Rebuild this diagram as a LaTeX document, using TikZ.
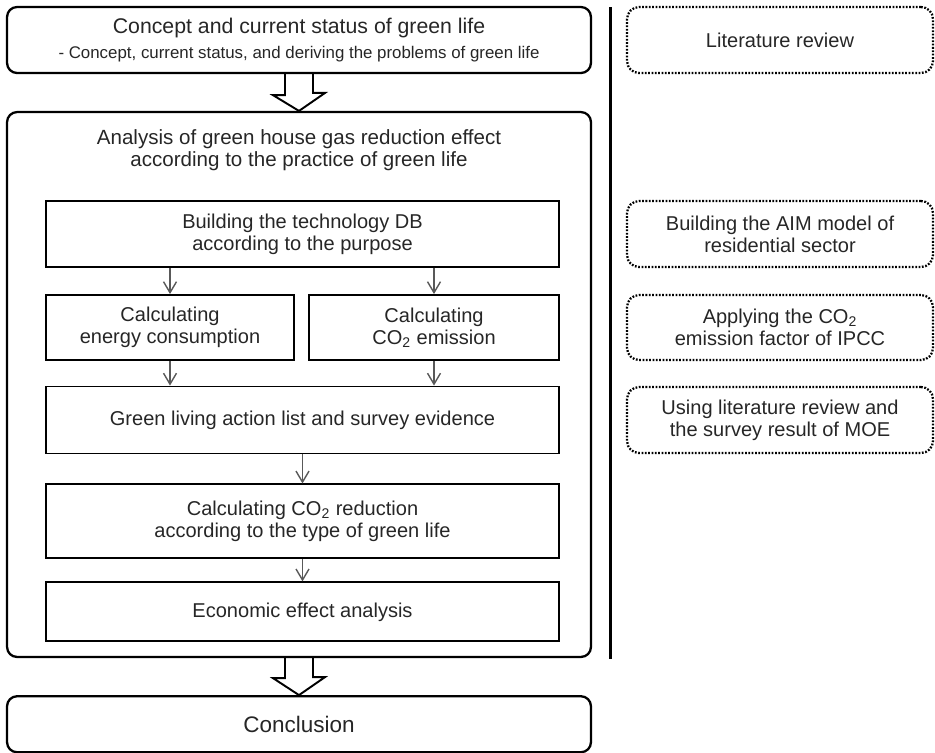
\documentclass[tikz,border=0pt]{standalone}
\usepackage{fontspec}
\setmainfont{Liberation Sans}
\usetikzlibrary{arrows.meta, positioning, calc}

\begin{document}
\begin{tikzpicture}[
    x=0.02cm, y=-0.02cm,
    frame/.style={rectangle, draw, rounded corners=0.2cm, line width=1.3pt, align=center, text=black!85, font=\fontsize{11.6}{13.2}\selectfont},
    box/.style={rectangle, draw, line width=1.1pt, minimum width=10.26cm, align=center, text=black!85, font=\fontsize{11.4}{12.6}\selectfont},
    note/.style={rectangle, draw, rounded corners=0.24cm, line width=1.3pt, dash pattern=on 1pt off 0.9pt, minimum width=6.12cm, minimum height=1.32cm, align=center, text=black!85, font=\fontsize{11.4}{12.6}\selectfont},
    arrow/.style={-{Straight Barb[length=2.2mm, width=2.6mm]}, gray!70!black, line width=0.8pt},
    bigarrow/.style={draw, line width=1.1pt, line join=miter}
]
    \useasboundingbox (0,0) rectangle (935,752);

    % left column
    \node[frame, minimum width=11.68cm, minimum height=1.32cm] (status) at (299,40)
        {{\fontsize{12.1}{14}\selectfont Concept and current status of green life}\\[1pt]
         {\fontsize{9.6}{11}\selectfont - Concept, current status, and deriving the problems of green life}};
    \node[frame, minimum width=11.68cm, minimum height=10.9cm] (analysis) at (299,384.5) {};
    \node[align=center, text=black!85, font=\fontsize{11.7}{12.8}\selectfont] (analysistitle) at (299,150)
        {Analysis of green house gas reduction effect\\according to the practice of green life};

    \node[box, minimum height=1.32cm] (db) at (302.5,234) {Building the technology DB\\according to the purpose};
    \node[box, minimum width=4.96cm, minimum height=1.3cm] (energy) at (170,327.5) {Calculating\\energy consumption};
    \node[box, minimum width=5cm, minimum height=1.3cm] (emission) at (434,327.5) {Calculating\\CO\textsubscript{2} emission};
    \node[box, minimum height=1.34cm] (action) at (302.5,420) {Green living action list and survey evidence};
    \node[box, minimum height=1.48cm, below=0.58cm of action] (reduction) {Calculating CO\textsubscript{2} reduction\\according to the type of green life};
    \node[box, minimum height=1.18cm, below=0.44cm of reduction] (economic) {Economic effect analysis};

    \node[frame, minimum width=11.68cm, minimum height=1.12cm, below=0.74cm of analysis, font=\fontsize{12.8}{14}\selectfont] (conclusion) {Conclusion};

    % right column
    \node[note] (lit) at (780,40) {Literature review};
    \node[note] (aim) at (780,234) {Building the AIM model of\\residential sector};
    \node[note, minimum height=1.3cm] (ipcc) at (780,327.5) {Applying the CO\textsubscript{2}\\emission factor of IPCC};
    \node[note] (moe) at (780,420) {Using literature review and\\the survey result of MOE};

    \draw[line width=1.7pt] (610,7) -- (610,659);

    % flow
    \draw[bigarrow] ($(status.south)+(-14,0)$) -- ++(0,21) -- ++(-12,0) -- (analysis.north)
        -- ++(26,-18) -- ++(-12,0) -- ($(status.south)+(14,0)$);
    \draw[bigarrow] ($(analysis.south)+(-14,0)$) -- ++(0,20) -- ++(-12,0) -- (conclusion.north)
        -- ++(26,-18) -- ++(-12,0) -- ($(analysis.south)+(14,0)$);

    \draw[arrow] (db.south -| energy) -- (energy);
    \draw[arrow] (db.south -| emission) -- (emission);
    \draw[arrow] (energy) -- (action.north -| energy);
    \draw[arrow] (emission) -- (action.north -| emission);
    \draw[arrow] (action) -- (reduction);
    \draw[arrow] (reduction) -- (economic);
\end{tikzpicture}
\end{document}
